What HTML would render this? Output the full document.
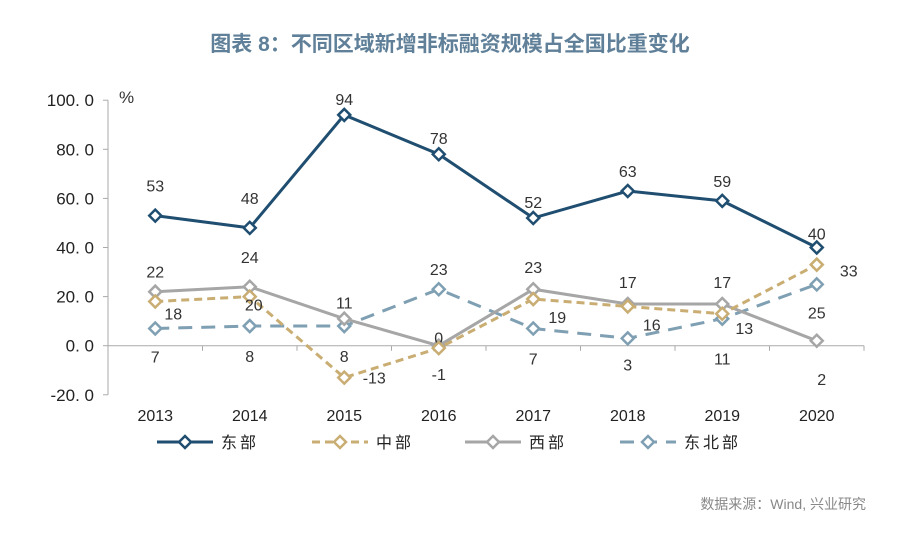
<!DOCTYPE html>
<html><head><meta charset="utf-8">
<style>
body{margin:0;background:#fff;width:900px;height:552px;overflow:hidden;font-family:"Liberation Sans","Noto Sans CJK SC",sans-serif;}
svg text{font-family:"Liberation Sans","Noto Sans CJK SC",sans-serif;}
</style></head><body>
<svg id="c" width="900" height="552" xmlns="http://www.w3.org/2000/svg">
<text x="450" y="51" text-anchor="middle" font-size="21" font-weight="bold" fill="#5f8098">图表 8：不同区域新增非标融资规模占全国比重变化</text>
<text x="119" y="103" font-size="17" fill="#333">%</text>
<text x="866" y="509" text-anchor="end" font-size="14" fill="#888">数据来源：Wind, 兴业研究</text>
<g id="axes"></g><g id="series"></g><g id="legend"></g>
</svg>
<script>
const categories=["2013","2014","2015","2016","2017","2018","2019","2020"];
const eastVals=[53,48,94,78,52,63,59,40];
const centralVals=[18,20,-13,-1,19,16,13,33];
const westVals=[22,24,11,0,23,17,17,2];
const neVals=[7,8,8,23,7,3,11,25];
const yTicks=[100,80,60,40,20,0,-20];
const seriesNames=["东部","中部","西部","东北部"];
const NS="http://www.w3.org/2000/svg";
const x0=108,bw=94.5;
const X=i=>x0+bw*(i+0.5);
const Y=v=>345.7-v*2.455;
function el(t,a,p){const e=document.createElementNS(NS,t);for(const k in a)e.setAttribute(k,a[k]);p.appendChild(e);return e;}
const ax=document.getElementById('axes');
el('line',{x1:x0,y1:Y(100),x2:x0,y2:Y(-20),stroke:'#aaa','stroke-width':1},ax);
el('line',{x1:x0,y1:Y(0),x2:x0+bw*8,y2:Y(0),stroke:'#aaa','stroke-width':1},ax);
yTicks.forEach(t=>{
  el('line',{x1:x0-5,y1:Y(t),x2:x0,y2:Y(t),stroke:'#aaa'},ax);
  const tx=el('text',{x:x0-14,y:Y(t)+6,'text-anchor':'end','font-size':17,fill:'#222'},ax);
  
  
  tx.textContent=t.toFixed(1).replace('.','. ');
});
for(let i=0;i<=8;i++){el('line',{x1:x0+bw*i,y1:Y(0),x2:x0+bw*i,y2:Y(0)+5,stroke:'#aaa'},ax);}
categories.forEach((c,i)=>{
  const tx=el('text',{x:X(i),y:421,'text-anchor':'middle','font-size':16,fill:'#222'},ax);
  
  
  tx.textContent=c;
});
const sg=document.getElementById('series');
const defs=[
 {vals:eastVals,color:'#1f4e70',dash:'',w:3,name:'east'},
 {vals:centralVals,color:'#c9ad72',dash:'8,5',w:3,name:'central'},
 {vals:westVals,color:'#a6a6a6',dash:'',w:3,name:'west'},
 {vals:neVals,color:'#7f9fb3',dash:'14,9',w:3,name:'northeast'}];
const offs=[
 [[0,-30],[0,-30],[0,-16],[0,-16],[0,-16],[0,-20],[0,-20],[0,-14]],
 [[18,12],[4,8],[30,0],[0,26],[24,18],[24,18],[22,14],[32,6]],
 [[0,-20],[0,-30],[0,-16],[0,-8],[0,-22],[0,-22],[0,-22],[5,38]],
 [[0,28],[0,30],[0,30],[0,-20],[0,30],[0,26],[0,40],[0,28]]];
[3,2,1,0].forEach(si=>{
  const d=defs[si];
  const pts=d.vals.map((v,i)=>X(i)+','+Y(v)).join(' ');
  const pl=el('polyline',{points:pts,fill:'none',stroke:d.color,'stroke-width':d.w,'stroke-dasharray':d.dash},sg);
  
  
  d.vals.forEach((v,i)=>{
    const cx=X(i),cy=Y(v);
    const m=el('polygon',{points:`${cx},${cy-6} ${cx+6},${cy} ${cx},${cy+6} ${cx-6},${cy}`,fill:'#fff',stroke:d.color,'stroke-width':2.5},sg);
    
    
    const t=el('text',{x:cx+offs[si][i][0],y:cy+offs[si][i][1]+6,'text-anchor':'middle','font-size':16,fill:'#333'},sg);
    
    
    t.textContent=v;
  });
});
const lg=document.getElementById('legend');
const lx=[157,312,465,620];
seriesNames.forEach((n,i)=>{
  const d=defs[i];
  const g=el('g',{},lg);
  
  
  el('line',{x1:lx[i],y1:442,x2:lx[i]+56,y2:442,stroke:d.color,'stroke-width':3,'stroke-dasharray':d.dash},g);
  const c=lx[i]+28;
  el('polygon',{points:`${c},436 ${c+6},442 ${c},448 ${c-6},442`,fill:'#fff',stroke:d.color,'stroke-width':2.5},g);
  const t=el('text',{x:lx[i]+64,y:448,'font-size':16,fill:'#222','letter-spacing':'3'},g);
  t.textContent=n;
});
</script>
</body></html>
